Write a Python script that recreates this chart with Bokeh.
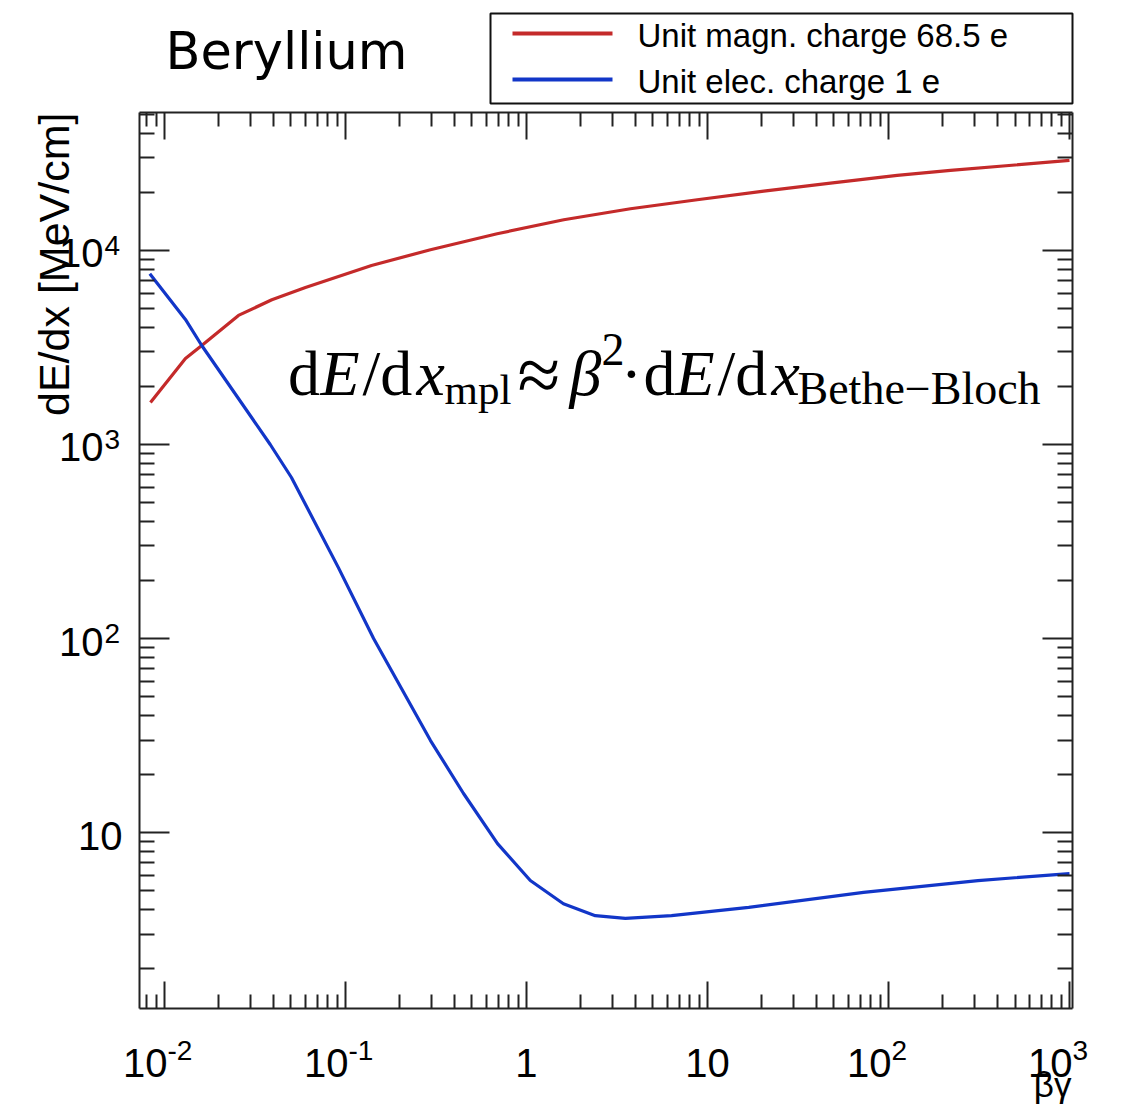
import math
from bokeh.plotting import figure
from bokeh.models import LogAxis, FixedTicker, Label, BoxAnnotation, Arrow, Range1d
from bokeh.embed import file_html
from bokeh.resources import INLINE

# ---------------- data ----------------
mpl_bg = [0.00837, 0.01306, 0.01607, 0.02564, 0.0392, 0.0601, 0.1393, 0.2948, 0.6888,
          1.607, 3.754, 8.773, 20.47, 47.81, 111.7, 220.0, 1000.0]
mpl_dedx = [1647, 2774, 3238, 4627, 5570, 6445, 8370, 10083, 12195,
            14390, 16400, 18250, 20220, 22230, 24360, 25850, 29100]

ele_bg = [0.0083, 0.01306, 0.01607, 0.0384, 0.0503, 0.0914, 0.143, 0.295, 0.449,
          0.692, 1.05, 1.60, 2.40, 3.52, 6.33, 16.9, 72.8, 312.0, 1000.0]
ele_dedx = [7585, 4410, 3238, 1000, 676, 232, 100, 29.8, 15.9,
            8.77, 5.66, 4.30, 3.73, 3.61, 3.73, 4.12, 4.92, 5.66, 6.15]

series_names = ["Unit magn. charge 68.5 e", "Unit elec. charge 1 e"]
series_colors = ["#c42a2a", "#1236c8"]

x_major = [1e-2, 1e-1, 1.0, 10.0, 1e2, 1e3]
x_base = ["10", "10", "1", "10", "10", "10"]
x_exp = ["-2", "-1", "", "", "2", "3"]
y_major = [10.0, 1e2, 1e3, 1e4]
y_base = ["10", "10", "10", "10"]
y_exp = ["", "2", "3", "4"]

x_lo, x_hi = 0.00728, 1039.0      # axis box limits
y_lo, y_hi = 1.24, 51400.0

x_minor = [k * 10.0 ** d for d in range(-3, 3) for k in range(2, 10)
           if x_lo < k * 10.0 ** d < x_hi]
y_minor = [k * 10.0 ** d for d in range(0, 5) for k in range(2, 10)
           if y_lo < k * 10.0 ** d < y_hi]

# ---------------- geometry (pixels) ----------------
W, H = 1117, 1105                 # canvas
PL, PR, PT, PB = 139, 1072, 112, 1008   # axis box on the canvas

kx = (math.log10(x_hi) - math.log10(x_lo)) / (PR - PL)
ky = (math.log10(y_hi) - math.log10(y_lo)) / (PB - PT)
xr = Range1d(10 ** (math.log10(x_lo) - PL * kx), 10 ** (math.log10(x_hi) + (W - PR) * kx))
yr = Range1d(10 ** (math.log10(y_lo) - (H - PB) * ky), 10 ** (math.log10(y_hi) + PT * ky))

p = figure(x_axis_type="log", y_axis_type="log", x_range=xr, y_range=yr,
           frame_width=W, frame_height=H, min_border=0,
           output_backend="svg", toolbar_location=None,
           background_fill_color="white", border_fill_color="white")
p.title.visible = False
p.xgrid.visible = False
p.ygrid.visible = False
p.outline_line_color = None

xt = FixedTicker(ticks=x_major, minor_ticks=x_minor)
yt = FixedTicker(ticks=y_major, minor_ticks=y_minor)
p.add_layout(LogAxis(), "above")
p.add_layout(LogAxis(), "right")
p.below[0].fixed_location = y_lo
p.above[0].fixed_location = y_hi
p.left[0].fixed_location = x_lo
p.right[0].fixed_location = x_hi
for ax in p.xaxis:
    ax.ticker = xt
    ax.bounds = (x_lo, x_hi)
    ax.major_tick_in = 27
    ax.minor_tick_in = 14
for ax in p.yaxis:
    ax.ticker = yt
    ax.bounds = (y_lo, y_hi)
    ax.major_tick_in = 30
    ax.minor_tick_in = 15
for ax in list(p.xaxis) + list(p.yaxis):
    ax.major_tick_out = 0
    ax.minor_tick_out = 0
    ax.major_label_text_font_size = "1px"
    ax.major_label_text_alpha = 0
    ax.axis_line_color = "#222222"
    ax.axis_line_width = 2
    ax.major_tick_line_color = "#222222"
    ax.major_tick_line_width = 2
    ax.minor_tick_line_color = "#222222"
    ax.minor_tick_line_width = 2
    ax.major_label_standoff = 0

p.line(mpl_bg, mpl_dedx, line_color=series_colors[0], line_width=3.2)
p.line(ele_bg, ele_dedx, line_color=series_colors[1], line_width=3.2)

CORR = 0.30  # baseline correction (fraction of font size)


def sy(py, fs=0):
    return H - py + CORR * fs


SANS = "Liberation Sans"
SERIF = "Liberation Serif"


def lab(text, px, py, fs, font=SANS, align="left", style="normal"):
    p.add_layout(Label(x=px, y=sy(py, fs), x_units="screen", y_units="screen",
                       text=text, text_font=font, text_font_size=f"{fs}px",
                       text_font_style=style,
                       text_align=align, text_baseline="alphabetic", text_color="black"))


# x tick labels
BF, EF = 40, 28
for v, b, e in zip(x_major, x_base, x_exp):
    if e:
        p.add_layout(Label(x=v, y=sy(1074, BF), x_units="data", y_units="screen", x_offset=3,
                           text=b, text_font=SANS, text_font_size=f"{BF}px",
                           text_align="right", text_baseline="alphabetic", text_color="black"))
        p.add_layout(Label(x=v, y=sy(1058, EF), x_units="data", y_units="screen", x_offset=3,
                           text=e, text_font=SANS, text_font_size=f"{EF}px",
                           text_align="left", text_baseline="alphabetic", text_color="black"))
    else:
        p.add_layout(Label(x=v, y=sy(1074, BF), x_units="data", y_units="screen",
                           text=b, text_font=SANS, text_font_size=f"{BF}px",
                           text_align="center", text_baseline="alphabetic", text_color="black"))

# y tick labels
for v, b, e in zip(y_major, y_base, y_exp):
    if e:
        p.add_layout(Label(x=103, y=v, x_units="screen", y_units="data",
                           y_offset=-15 + CORR * BF,
                           text=b, text_font=SANS, text_font_size=f"{BF}px",
                           text_align="right", text_baseline="alphabetic", text_color="black"))
        p.add_layout(Label(x=104, y=v, x_units="screen", y_units="data",
                           y_offset=-3 + CORR * EF,
                           text=e, text_font=SANS, text_font_size=f"{EF}px",
                           text_align="left", text_baseline="alphabetic", text_color="black"))
    else:
        p.add_layout(Label(x=122, y=v, x_units="screen", y_units="data",
                           y_offset=-15 + CORR * BF,
                           text=b, text_font=SANS, text_font_size=f"{BF}px",
                           text_align="right", text_baseline="alphabetic", text_color="black"))

# axis titles
YT = 43
p.add_layout(Label(x=66 - CORR * YT, y=H - 112, x_units="screen", y_units="screen",
                   angle=math.pi / 2,
                   text="dE/dx [MeV/cm]", text_font=SANS, text_font_size=f"{YT}px",
                   text_align="right", text_baseline="alphabetic", text_color="black"))
lab("\u03b2\u03b3", 1071, 1094, 35, align="right")

# title
lab("Beryllium", 165, 66, 51, font="DejaVu Sans")

# legend
p.add_layout(BoxAnnotation(left=490, right=1072, top=H - 13, bottom=H - 103,
                           left_units="screen", right_units="screen",
                           top_units="screen", bottom_units="screen",
                           fill_color="white", fill_alpha=1.0,
                           line_color="#111111", line_alpha=1.0, line_width=2))
for i, (name, col) in enumerate(zip(series_names, series_colors)):
    yy = 33 + 46 * i
    p.add_layout(Arrow(x_start=512, x_end=612, y_start=H - yy, y_end=H - yy,
                       start_units="screen", end_units="screen", end=None,
                       line_color=col, line_width=4))
    lab(name, 637, yy + 12, 33)

# formula
MAIN, SUB = 64, 46
pieces = [
    ("d", 287.5, 392, MAIN, "normal", "left"),
    ("E", 320, 392, MAIN, "italic", "left"),
    ("/d", 362, 392, MAIN, "normal", "left"),
    ("x", 416, 392, MAIN, "italic", "left"),
    ("mpl", 444, 402, 43, "normal", "left"),
    ("\u2248", 538.5, 397, 78, "normal", "center"),
    ("\u03b2", 569, 392, MAIN, "italic", "left"),
    ("2", 601, 363, SUB, "normal", "left"),
    ("\u00b7", 631, 392, MAIN, "normal", "center"),
    ("d", 643, 392, MAIN, "normal", "left"),
    ("E", 675, 392, MAIN, "italic", "left"),
    ("/d", 717, 392, MAIN, "normal", "left"),
    ("x", 771, 392, MAIN, "italic", "left"),
    ("Bethe\u2212Bloch", 797, 402, SUB, "normal", "left"),
]
for t, px, py, fs, st, al in pieces:
    lab(t, px, py, fs, font=SERIF, align=al, style=st)

open("out.html", "w").write(file_html(p, INLINE))
